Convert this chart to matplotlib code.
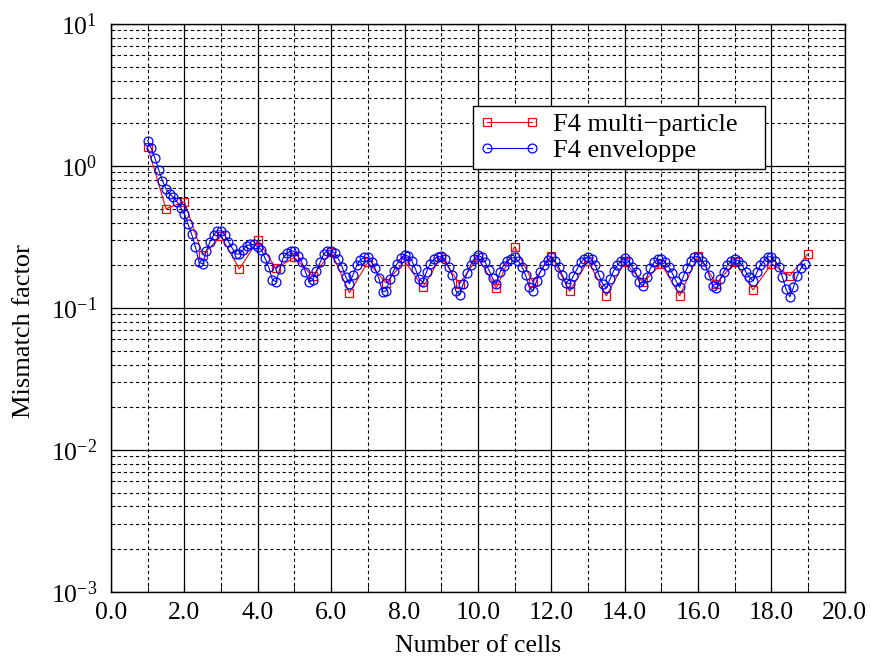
import numpy as np
import matplotlib
matplotlib.use("Agg")
import matplotlib.pyplot as plt
from matplotlib.ticker import MultipleLocator, LogLocator, NullFormatter, FixedLocator

plt.rcParams['font.family'] = ['Liberation Serif', 'DejaVu Serif']
plt.rcParams['mathtext.fontset'] = 'custom'
plt.rcParams['mathtext.rm'] = 'Liberation Serif'
plt.rcParams['mathtext.it'] = 'Liberation Serif:italic'

# --- data ---
# multi-particle: one point every half cell, from 1.0 to 19.0
multi_x = np.arange(2, 39) * 0.5
multi_y = [1.36, 0.50, 0.56, 0.237, 0.32, 0.188, 0.30, 0.19, 0.227, 0.167,
           0.248, 0.128, 0.21, 0.15, 0.215, 0.14, 0.23, 0.148, 0.227, 0.138,
           0.27, 0.152, 0.234, 0.131, 0.215, 0.122, 0.21, 0.152, 0.204, 0.122,
           0.234, 0.148, 0.21, 0.134, 0.204, 0.169, 0.241]

# envelope: one point every tenth of a cell, from 1.0 to 18.9 (one row per cell)
env_cells = [
    [1.51, 1.33, 1.13, 0.94, 0.79, 0.69, 0.635, 0.60, 0.56, 0.51],
    [0.46, 0.39, 0.33, 0.27, 0.21, 0.204, 0.253, 0.293, 0.327, 0.35],
    [0.35, 0.327, 0.293, 0.265, 0.24, 0.24, 0.257, 0.275, 0.28, 0.28],
    [0.27, 0.257, 0.224, 0.194, 0.158, 0.153, 0.188, 0.227, 0.244, 0.253],
    [0.25, 0.231, 0.21, 0.18, 0.152, 0.158, 0.183, 0.21, 0.24, 0.253],
    [0.253, 0.243, 0.221, 0.195, 0.165, 0.148, 0.172, 0.2, 0.218, 0.228],
    [0.227, 0.21, 0.19, 0.162, 0.13, 0.132, 0.16, 0.182, 0.205, 0.225],
    [0.235, 0.232, 0.215, 0.188, 0.16, 0.152, 0.18, 0.205, 0.22, 0.23],
    [0.232, 0.22, 0.195, 0.17, 0.132, 0.124, 0.148, 0.175, 0.2, 0.222],
    [0.235, 0.228, 0.21, 0.185, 0.162, 0.148, 0.178, 0.199, 0.215, 0.223],
    [0.227, 0.215, 0.195, 0.17, 0.14, 0.132, 0.155, 0.18, 0.2, 0.218],
    [0.227, 0.215, 0.195, 0.17, 0.15, 0.148, 0.168, 0.188, 0.21, 0.222],
    [0.227, 0.22, 0.2, 0.17, 0.148, 0.138, 0.16, 0.183, 0.2, 0.215],
    [0.225, 0.215, 0.195, 0.178, 0.152, 0.142, 0.165, 0.19, 0.21, 0.22],
    [0.22, 0.21, 0.195, 0.175, 0.155, 0.14, 0.168, 0.19, 0.215, 0.23],
    [0.23, 0.215, 0.2, 0.17, 0.142, 0.138, 0.16, 0.18, 0.2, 0.215],
    [0.22, 0.215, 0.2, 0.18, 0.165, 0.155, 0.178, 0.2, 0.215, 0.23],
    [0.228, 0.215, 0.195, 0.165, 0.135, 0.12, 0.14, 0.168, 0.19, 0.205],
]
env_y = [v for cell in env_cells for v in cell]
env_x = np.arange(10, 10 + len(env_y)) / 10.0

x_ticks = np.arange(0, 21, 2)
x_labels = [f"{t:.1f}" for t in x_ticks]

# --- figure ---
fig = plt.figure(figsize=(8.71, 6.61), dpi=100)
ax = fig.add_axes([0.1274, 0.1044, 0.8426, 0.8593])

ax.plot(multi_x, multi_y, color='#ff0000', lw=0.8, marker='s', ms=5.2,
        mfc='none', mec='#ff0000', mew=0.9, label='F4 multi\u2212particle', zorder=3)
ax.plot(env_x, env_y, color='#0000ff', lw=0.8, marker='o', ms=6.4,
        mfc='none', mec='#0000ff', mew=0.9, label='F4 enveloppe', zorder=4)

ax.set_yscale('log')
ax.set_xlim(0, 20)
ax.set_ylim(1e-3, 10)

ax.xaxis.set_major_locator(FixedLocator(x_ticks))
ax.set_xticklabels(x_labels)
ax.xaxis.set_minor_locator(MultipleLocator(1))
ax.yaxis.set_major_locator(LogLocator(base=10, numticks=10))
ax.yaxis.set_minor_locator(LogLocator(base=10, subs=np.arange(2, 10), numticks=20))
ax.yaxis.set_minor_formatter(NullFormatter())

ax.grid(which='major', color='black', lw=0.9, ls='-')
ax.grid(which='minor', color='black', lw=0.8, ls=(0, (3, 2.5)))
ax.set_axisbelow(True)

ax.tick_params(which='both', direction='in', top=True, right=True, labelsize=18.5)
ax.tick_params(which='major', length=5, width=0.8)
ax.tick_params(which='minor', length=3, width=0.6)
ax.tick_params(axis='x', which='minor', length=5)
ax.tick_params(axis='x', pad=7)
ax.tick_params(axis='y', pad=10)
for s in ax.spines.values():
    s.set_linewidth(1.0)

ax.set_xlabel('Number of cells', fontsize=18.5, labelpad=8)
ax.set_ylabel('Mismatch factor', fontsize=19)
ax.yaxis.set_label_coords(-0.104, 0.46)

# legend box stretched to the width seen in the reference
leg = ax.legend(loc='upper left', bbox_to_anchor=(0.4932, 0.856, 0.398, 0.0),
                mode='expand', borderaxespad=0,
                fontsize=19, numpoints=2, handlelength=2.3, handletextpad=0.5,
                borderpad=0.25, labelspacing=0.1, fancybox=False, framealpha=1,
                edgecolor='black')
leg.get_frame().set_linewidth(1.0)

fig.savefig('out.png', dpi=100)
